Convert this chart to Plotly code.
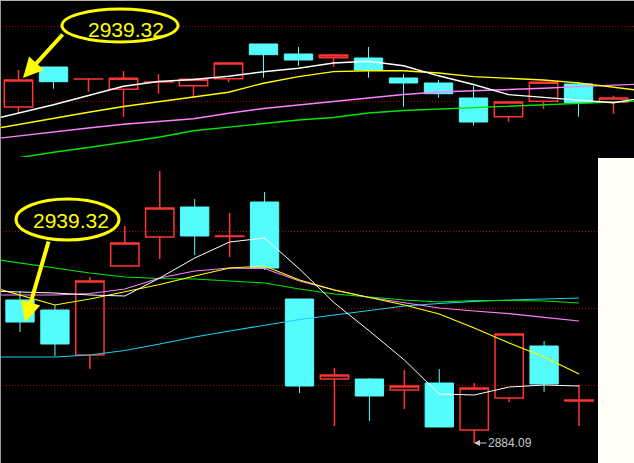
import plotly.graph_objects as go

W, H = 634, 463

# ---------------- data ----------------
# top panel (index positions)
top_x = list(range(18))
top_open = [2858.32, 2978.32, 2942.00, 2911.42, 2933.00, 2922.22, 2943.22, 3047.32, 3017.32,
            3006.22, 3005.32, 2945.32, 2930.32, 2885.32, 2829.22, 2875.42, 2927.32, 2872.42]
top_high = [2969.32, 2978.32, 2945.32, 2966.32, 2957.32, 2941.42, 2990.32, 3047.32, 3038.32,
            3017.32, 3038.32, 2957.32, 2939.32, 2921.32, 2873.32, 2932.42, 2933.32, 2892.22]
top_low = [2837.32, 2913.22, 2903.32, 2829.22, 2898.22, 2887.42, 2932.42, 2946.22, 2981.32,
           2979.22, 2946.22, 2859.22, 2886.22, 2802.22, 2814.22, 2852.32, 2829.22, 2838.22]
top_close = [2939.32, 2934.22, 2942.32, 2944.42, 2933.32, 2941.42, 2990.32, 3015.22, 2999.32,
             3014.32, 2969.32, 2930.32, 2898.22, 2813.32, 2873.32, 2932.42, 2871.22, 2885.32]

top_line_x = list(range(-1, 19))
top_ma5 = [2814.82, 2839.42, 2864.92, 2892.82, 2920.42, 2934.82, 2940.82, 2950.42, 2963.92, 2974.42,
           2990.32, 2995.72, 2981.92, 2951.92, 2925.82, 2895.52, 2886.22, 2879.02, 2870.92, 2888.32]
top_ma10 = [2787.22, 2806.42, 2824.42, 2842.72, 2859.82, 2874.82, 2887.72, 2902.72, 2929.72, 2949.52,
            2964.52, 2967.22, 2967.22, 2960.32, 2949.52, 2943.52, 2939.32, 2930.62, 2918.02, 2904.82]
top_ma20 = [2759.32, 2771.92, 2784.22, 2795.32, 2806.42, 2815.42, 2823.22, 2839.72, 2853.82, 2864.32,
            2874.82, 2887.42, 2895.82, 2903.32, 2906.92, 2909.32, 2914.42, 2919.52, 2923.72, 2927.92]
top_ma30_x = list(range(0, 19))
top_ma30 = [2705.92, 2722.72, 2736.82, 2752.12, 2767.72, 2787.22, 2798.32, 2808.82, 2819.32, 2826.82,
            2840.32, 2847.82, 2852.02, 2854.12, 2858.92, 2864.32, 2867.32, 2871.52, 2877.82]
top_grid = [2876.32, 3101.32]

# bottom panel
bot_x = list(range(17))
bot_open = [2949.36, 2944.80, 2924.26, 2964.88, 2978.11, 2991.81, 2978.40, 2994.09, 2949.82,
            2913.31, 2913.31, 2908.28, 2911.48, 2890.03, 2904.63, 2928.37, 2903.26]
bot_high = [2953.47, 2947.08, 2959.86, 2983.13, 3008.24, 2995.46, 2989.07, 2998.65, 2949.82,
            2918.33, 2913.76, 2917.41, 2917.87, 2911.48, 2933.84, 2930.65, 2910.57]
bot_low = [2934.76, 2923.80, 2917.87, 2964.88, 2968.07, 2969.90, 2968.99, 2963.05, 2906.92,
           2891.85, 2894.14, 2899.61, 2891.40, 2884.09, 2902.81, 2907.37, 2891.85]
bot_close = [2939.32, 2929.28, 2958.03, 2975.38, 2991.35, 2978.57, 2978.60, 2963.97, 2910.11,
             2915.13, 2905.55, 2910.11, 2891.40, 2909.20, 2933.84, 2911.02, 2903.70]

bot_line_x = list(range(-1, 17))
bot_ma5 = [2953.47, 2953.01, 2952.56, 2951.64, 2951.19, 2959.40, 2968.53, 2975.83, 2977.66,
           2963.51, 2947.99, 2935.21, 2921.98, 2906.46, 2906.00, 2909.65, 2910.57, 2910.11]
bot_ma10 = [2956.21, 2951.64, 2947.08, 2949.82, 2953.01, 2956.44, 2960.31, 2963.97, 2964.88,
            2958.49, 2953.92, 2950.41, 2947.08, 2942.97, 2936.58, 2929.74, 2923.35, 2915.59]
bot_ma20 = [2951.64, 2951.64, 2951.64, 2952.33, 2954.38, 2959.40, 2962.60, 2963.97, 2963.74,
            2958.03, 2953.92, 2950.50, 2947.99, 2945.71, 2944.34, 2943.11, 2941.42, 2939.78]
bot_ma30 = [2968.53, 2966.25, 2963.74, 2961.68, 2959.86, 2959.17, 2958.95, 2958.03, 2957.12,
            2954.38, 2952.10, 2950.73, 2949.36, 2948.45, 2949.13, 2949.13, 2948.90, 2947.99]
bot_ma60 = [2923.35, 2923.35, 2923.35, 2924.26, 2926.31, 2929.28, 2932.47, 2935.21, 2937.72,
            2940.46, 2942.51, 2944.57, 2946.62, 2947.76, 2948.77, 2949.36, 2949.82, 2950.27]
bot_grid = [2910.57, 2945.71, 2980.85]

label_close = "2939.32"
label_low = "2884.09"

# ---------------- style ----------------
RED = "#ff3434"
CYAN = "#54fcfc"
WHITE = "#ffffff"
YELLOW = "#ffff00"
MAGENTA = "#ff80ff"
GREEN = "#00e600"
LBLUE = "#1ccdf2"
GRID = "#b00000"


def px(x):
    return x / W


def py(y):
    return 1 - y / H


SPLIT = 157

fig = go.Figure()


def candles(x, o, h, l, c, xa, ya):
    return go.Candlestick(
        x=x, open=o, high=h, low=l, close=c, xaxis=xa, yaxis=ya,
        increasing=dict(line=dict(color=RED, width=1.5), fillcolor="rgba(0,0,0,0)"),
        decreasing=dict(line=dict(color=CYAN, width=1), fillcolor=CYAN),
        whiskerwidth=0, showlegend=False, hoverinfo="skip")


def line(x, y, color, xa, ya, w=1.4):
    return go.Scatter(x=x, y=y, mode="lines", line=dict(color=color, width=w),
                      xaxis=xa, yaxis=ya, showlegend=False, hoverinfo="skip")


fig.add_trace(candles(top_x, top_open, top_high, top_low, top_close, "x", "y"))
fig.add_trace(line(top_ma30_x, top_ma30, GREEN, "x", "y"))
fig.add_trace(line(top_line_x, top_ma20, MAGENTA, "x", "y"))
fig.add_trace(line(top_line_x, top_ma10, YELLOW, "x", "y"))
fig.add_trace(line(top_line_x, top_ma5, WHITE, "x", "y"))

fig.add_trace(candles(bot_x, bot_open, bot_high, bot_low, bot_close, "x2", "y2"))
fig.add_trace(line(bot_line_x, bot_ma60, LBLUE, "x2", "y2", 1.2))
fig.add_trace(line(bot_line_x, bot_ma30, GREEN, "x2", "y2", 1.2))
fig.add_trace(line(bot_line_x, bot_ma20, MAGENTA, "x2", "y2", 1.2))
fig.add_trace(line(bot_line_x, bot_ma10, YELLOW, "x2", "y2", 1.2))
fig.add_trace(line(bot_line_x, bot_ma5, WHITE, "x2", "y2", 1.0))

axis_common = dict(showticklabels=False, zeroline=False, ticks="", showline=False, fixedrange=True)
ygrid = dict(showgrid=True, gridcolor=GRID, gridwidth=1, griddash="1px,2px")

fig.update_layout(
    width=W, height=H, autosize=False,
    margin=dict(l=0, r=0, t=0, b=0),
    paper_bgcolor="#000000", plot_bgcolor="#000000",
    boxgap=0.19, boxgroupgap=0, boxmode="overlay",
    xaxis=dict(domain=[0, 1], anchor="y", range=[-18.5 / 35, (W - 18.5) / 35],
               showgrid=False, rangeslider=dict(visible=False), **axis_common),
    yaxis=dict(domain=[py(SPLIT), 1], anchor="x", range=[2708.32, 3179.32],
               tickvals=top_grid, **ygrid, **axis_common),
    xaxis2=dict(domain=[0, 1], anchor="y2", range=[-20 / 34.94, (W - 20) / 34.94],
                showgrid=False, rangeslider=dict(visible=False), **axis_common),
    yaxis2=dict(domain=[0, py(SPLIT)], anchor="x2", range=[2874.97, 3014.63],
                tickvals=bot_grid, **ygrid, **axis_common),
)

shapes = [
    # white area on right of lower panel
    dict(type="rect", xref="paper", yref="paper", x0=px(598), x1=1, y0=0, y1=py(158),
         fillcolor="#fffef7", line=dict(width=0), layer="above"),
    # borders
    dict(type="line", xref="paper", yref="paper", x0=px(0.5), x1=px(0.5), y0=0, y1=1,
         line=dict(color="#9a9a9a", width=1), layer="above"),
    dict(type="line", xref="paper", yref="paper", x0=0, x1=1, y0=py(0.5), y1=py(0.5),
         line=dict(color="#b0b0b0", width=1), layer="above"),
    # ellipses
    dict(type="circle", xref="paper", yref="paper", x0=px(62), x1=px(178), y0=py(42), y1=py(9),
         fillcolor="#000000", line=dict(color=YELLOW, width=3), layer="above"),
    dict(type="circle", xref="paper", yref="paper", x0=px(16), x1=px(119), y0=py(240), y1=py(199),
         fillcolor="#000000", line=dict(color=YELLOW, width=3), layer="above"),
]
fig.update_layout(shapes=shapes)

font_big = dict(family="Liberation Sans, Arial, sans-serif", size=21, color=YELLOW)
annotations = [
    dict(xref="paper", yref="paper", x=px(125.5), y=py(29), text=label_close, showarrow=False,
         font=font_big, xanchor="center", yanchor="middle"),
    dict(xref="paper", yref="paper", x=px(70.5), y=py(220), text=label_close, showarrow=False,
         font=font_big, xanchor="center", yanchor="middle"),
    dict(xref="paper", yref="paper", x=px(23), y=py(78), text="", showarrow=True,
         ax=41, ay=-45, arrowcolor=YELLOW, arrowwidth=4, arrowhead=2, arrowsize=1, standoff=0),
    dict(xref="paper", yref="paper", x=px(25), y=py(322), text="", showarrow=True,
         ax=24, ay=-82, arrowcolor=YELLOW, arrowwidth=4, arrowhead=2, arrowsize=1, standoff=0),
    dict(xref="paper", yref="paper", x=px(474), y=py(443), text=label_low, showarrow=True,
         ax=36, ay=0, arrowcolor="#c8c8c8", arrowwidth=1, arrowhead=2, arrowsize=1.2,
         font=dict(family="Liberation Sans, Arial, sans-serif", size=12, color="#c8c8c8")),
]
fig.update_layout(annotations=annotations)

fig.write_html(
    "out.html",
    config={"displayModeBar": False},
    post_script="document.body.style.margin='0';document.body.style.overflow='hidden';",
)
